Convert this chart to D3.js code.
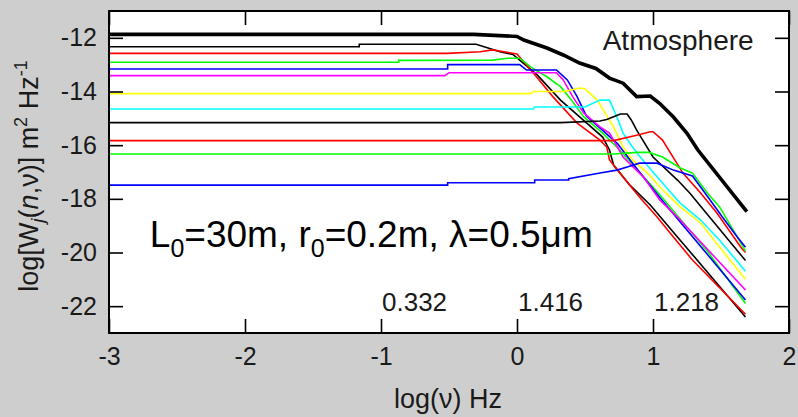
<!DOCTYPE html>
<html><head><meta charset="utf-8">
<script src="https://cdn.jsdelivr.net/npm/d3@7"></script>
<style>
html,body{margin:0;padding:0;background:#cecece;}
svg{display:block;font-family:Arial,"Liberation Sans",sans-serif;}
</style></head>
<body><svg id="c" width="798" height="417"></svg>
<script>
// ---- data (x = log10(nu) Hz, y = log W) ----
const xTicks = [-3,-2,-1,0,1,2];
const yTicks = [-22,-20,-18,-16,-14,-12];
const seriesColors = ["#000000","#ff0000","#00ff00","#0000ff","#ff00ff","#ffff00","#00ffff","#000000","#ff0000","#00ff00","#0000ff"];

const atmX = [-3,-0.32,0.0,0.05,0.22,0.34,0.46,0.58,0.68,0.78,0.88,0.98,1.05,1.15,1.25,1.33,1.69];
const atmY = [-11.87,-11.87,-11.95,-12.08,-12.38,-12.64,-12.94,-13.14,-13.5,-13.69,-14.19,-14.17,-14.45,-14.95,-15.56,-16.18,-18.48];

const k1X = [-3,-1.16,-1.16,-0.3,-0.125,-0.03,0.15,0.32,0.63,0.68,0.71,0.83,0.98,1.2,1.68];
const k1Y = [-12.33,-12.33,-12.24,-12.24,-12.52,-12.62,-13.39,-14.32,-15.7,-16.18,-16.74,-17.49,-18.23,-19.54,-22.4];

const r1X = [-3,-0.51,-0.27,-0.18,0.0,0.12,0.265,0.44,0.61,0.66,0.68,0.78,0.90,1.03,1.15,1.29,1.68];
const r1Y = [-12.58,-12.58,-12.52,-12.45,-12.6,-13.31,-14.2,-15.17,-15.81,-16.07,-16.55,-17.19,-17.93,-18.68,-19.42,-20.28,-22.3];

const g1X = [-3,-0.87,-0.87,-0.18,-0.07,0.02,0.10,0.22,0.32,0.41,0.49,0.63,0.75,0.90,1.05,1.20,1.40,1.68];
const g1Y = [-12.91,-12.91,-12.84,-12.83,-12.76,-12.76,-13.08,-13.45,-13.82,-14.38,-14.94,-15.55,-16.15,-17.0,-17.85,-18.75,-19.95,-21.9];

const b1X = [-3,-0.51,-0.51,0.02,0.07,0.29,0.37,0.44,0.51,0.63,0.74,0.9,1.05,1.2,1.68];
const b1Y = [-13.16,-13.16,-13.0,-13.0,-13.2,-13.2,-13.57,-14.17,-14.91,-15.45,-15.95,-17.0,-17.95,-18.86,-21.77];

const m1X = [-3,-0.53,-0.50,0.29,0.34,0.41,0.49,0.61,0.68,0.78,0.93,1.05,1.2,1.68];
const m1Y = [-13.41,-13.41,-13.30,-13.30,-13.57,-14.2,-14.8,-15.32,-15.55,-16.44,-17.19,-18.04,-18.79,-21.4];

const y1X = [-3,0.10,0.12,0.35,0.46,0.50,0.59,0.71,0.78,0.85,0.96,1.05,1.2,1.35,1.49,1.68];
const y1Y = [-14.08,-14.08,-14.0,-14.0,-13.87,-13.9,-14.32,-15.32,-16.07,-16.55,-17.04,-17.56,-18.3,-18.9,-19.8,-21.0];

const c1X = [-3,0.12,0.13,0.50,0.61,0.68,0.735,0.78,0.84,0.90,1.05,1.2,1.35,1.49,1.68];
const c1Y = [-14.65,-14.65,-14.58,-14.58,-14.32,-14.32,-14.95,-15.55,-16.0,-16.4,-17.3,-18.16,-18.79,-19.54,-20.7];

const k2X = [-3,0.32,0.61,0.66,0.76,0.81,0.84,0.88,1.0,1.18,1.27,1.68];
const k2Y = [-15.16,-15.16,-15.1,-15.04,-14.84,-14.84,-15.06,-15.44,-16.44,-17.3,-17.78,-20.3];

const r2X = [-3,0.71,0.88,0.98,1.0,1.07,1.22,1.35,1.47,1.65,1.68];
const r2Y = [-15.83,-15.83,-15.63,-15.5,-15.5,-15.81,-17.04,-17.78,-18.53,-19.83,-20.0];

const g2X = [-3,0.71,0.89,0.97,1.07,1.2,1.29,1.40,1.49,1.68];
const g2Y = [-16.33,-16.33,-16.27,-16.27,-16.44,-16.85,-17.04,-17.78,-18.3,-19.95];

const b2X = [-3,-0.51,-0.51,0.13,0.13,0.38,0.38,0.61,0.735,0.81,0.90,1.03,1.15,1.29,1.35,1.42,1.51,1.62,1.68];
const b2Y = [-17.49,-17.49,-17.40,-17.40,-17.30,-17.30,-17.25,-17.04,-16.93,-16.81,-16.67,-16.67,-16.93,-17.15,-17.56,-18.04,-18.68,-19.42,-19.80];

const noteLabels = ["0.332","1.416","1.218"];
const noteX = [-1,0,1];

// ---- layout ----
const svg = d3.select("#c");
const L = 109, R = 789, T = 11, B = 333;
const x = d3.scaleLinear().domain([-3,2]).range([L,R]);
const y = d3.scaleLinear().domain([-23,-11]).range([B,T]);

svg.append("rect").attr("x",L).attr("y",T).attr("width",R-L).attr("height",B-T).attr("fill","#fff");

const thin = [[k1X,k1Y],[r1X,r1Y],[g1X,g1Y],[b1X,b1Y],[m1X,m1Y],[y1X,y1Y],[c1X,c1Y],[k2X,k2Y],[r2X,r2Y],[g2X,g2Y],[b2X,b2Y]];
const line = d3.line().x(d=>x(d[0])).y(d=>y(d[1]));
const plot = svg.append("g");
thin.forEach((s,i)=>{
  const pts = s[0].map((v,j)=>[v,s[1][j]]);
  plot.append("path").attr("d",line(pts)).attr("fill","none")
    .attr("stroke",seriesColors[i]).attr("stroke-width",1.6).attr("stroke-linejoin","miter");
});
plot.append("path").attr("d",line(atmX.map((v,j)=>[v,atmY[j]])))
  .attr("fill","none").attr("stroke","#000").attr("stroke-width",3.6);

// axes
const tick = 14;
const fs = "25px";
const gx = svg.append("g").attr("transform",`translate(0,${B})`)
  .call(d3.axisBottom(x).tickValues(xTicks).tickSizeInner(-tick).tickSizeOuter(0).tickPadding(14).tickFormat(d3.format("d")));
const gy = svg.append("g").attr("transform",`translate(${L},0)`)
  .call(d3.axisLeft(y).tickValues(yTicks).tickSizeInner(-tick).tickSizeOuter(0).tickPadding(12).tickFormat(d3.format("d")));
const gt = svg.append("g").attr("transform",`translate(0,${T})`)
  .call(d3.axisTop(x).tickValues(xTicks).tickSizeInner(-tick).tickSizeOuter(0).tickFormat(""));
const gr = svg.append("g").attr("transform",`translate(${R},0)`)
  .call(d3.axisRight(y).tickValues(yTicks).tickSizeInner(-tick).tickSizeOuter(0).tickFormat(""));
[gx,gy,gt,gr].forEach(g=>{
  g.select(".domain").remove();
  g.selectAll(".tick line").attr("stroke","#000").attr("stroke-width",1.6);
  g.selectAll("text").attr("font-size",fs).attr("fill","#1a1a1a").attr("font-family","Arial,'Liberation Sans',sans-serif");
});
gx.selectAll(".tick text").text(d=>d<0?"-"+Math.abs(d):d);
gy.selectAll(".tick text").text(d=>"-"+Math.abs(d));

svg.append("rect").attr("x",L).attr("y",T).attr("width",R-L).attr("height",B-T)
  .attr("fill","none").attr("stroke","#000").attr("stroke-width",2);

// labels
svg.append("text").attr("x",(L+R)/2 - 1).attr("y",408).attr("text-anchor","middle")
  .attr("font-size","27px").attr("fill","#1a1a1a").text("log(ν) Hz");

const yl = svg.append("text").attr("transform",`translate(38,${(T+B)/2 + 4}) rotate(-90)`)
  .attr("text-anchor","middle").attr("font-size","27px").attr("fill","#1a1a1a");
yl.append("tspan").text("log[W");
yl.append("tspan").attr("font-style","italic").attr("font-size","19px").attr("dy","6").text("j");
yl.append("tspan").attr("dy","-6").text("(");
yl.append("tspan").attr("font-style","italic").text("n");
yl.append("tspan").text(",ν)] m");
yl.append("tspan").attr("font-size","18px").attr("dy","-11").text("2");
yl.append("tspan").attr("dy","11").text(" Hz");
yl.append("tspan").attr("font-size","18px").attr("dy","-11").text("-1");

svg.append("text").attr("x",x(0.63)).attr("y",y(-12.45)).attr("font-size","28px").attr("fill","#1a1a1a").text("Atmosphere");

noteLabels.forEach((t,i)=>{
  svg.append("text").attr("x",x(noteX[i])+1).attr("y",y(-22.18)).attr("font-size","26px").attr("fill","#1a1a1a").text(t);
});

const ann = svg.append("text").attr("x",x(-2.70)).attr("y",y(-19.8)).attr("font-size","37px").attr("fill","#000");
ann.append("tspan").text("L");
ann.append("tspan").attr("font-size","25px").attr("dy","10").text("0");
ann.append("tspan").attr("dy","-10").text("=30m, r");
ann.append("tspan").attr("font-size","25px").attr("dy","10").text("0");
ann.append("tspan").attr("dy","-10").text("=0.2m, λ=0.5μm");
</script></body></html>
